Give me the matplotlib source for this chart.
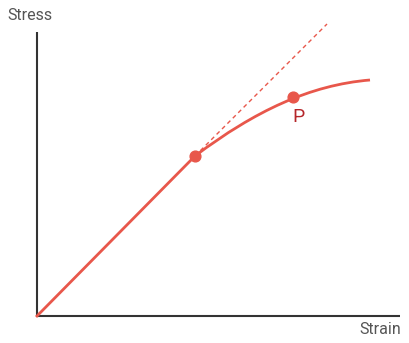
import matplotlib.pyplot as plt
from matplotlib.path import Path
from matplotlib.patches import PathPatch

# values (pixel-like units, origin at axis corner)
linear_x = [0, 158]
linear_y = [0, 160]
tangent_x = [158, 290]
tangent_y = [160, 292]
# plastic region as a cubic Bezier: start, two control points, end
curve_x = [158, 218, 273, 333]
curve_y = [160, 205, 231, 236]
dots_x = [158, 256]
dots_y = [160, 219]

red = '#e8574b'

plt.rcParams['font.family'] = ['Roboto', 'DejaVu Sans']

fig = plt.figure(figsize=(4.10, 3.43), dpi=100)
ax = fig.add_axes([0, 0, 1, 1])
ax.set_xlim(-37, 373)
ax.set_ylim(-27, 316)
ax.axis('off')

# axes
ax.plot([0, 0], [0, 284], color='#333333', lw=1.5, solid_capstyle='butt')
ax.plot([0, 363], [0, 0], color='#333333', lw=1.5, solid_capstyle='butt')

ax.plot(tangent_x, tangent_y, color=red, lw=1, ls=(0, (3, 2.5)))
ax.plot(linear_x, linear_y, color=red, lw=2)
path = Path(list(zip(curve_x, curve_y)),
            [Path.MOVETO, Path.CURVE4, Path.CURVE4, Path.CURVE4])
ax.add_patch(PathPatch(path, facecolor='none', edgecolor=red, lw=2))
ax.scatter(dots_x, dots_y, s=60, color=red, zorder=5)

ax.text(262, 208, 'P', color='#b5262a', fontsize=14, ha='center', va='top')
ax.text(-7, 300, 'Stress', color='#555555', fontsize=11.5, ha='center', va='center')
ax.text(343, -14, 'Strain', color='#555555', fontsize=11.5, ha='center', va='center')

fig.savefig('out.png', dpi=100)
